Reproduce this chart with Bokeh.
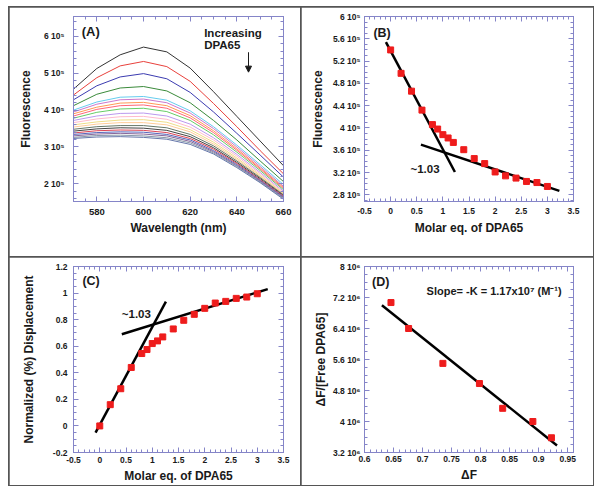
from bokeh.plotting import figure
from bokeh.models import LinearAxis, FixedTicker, Range1d, Arrow, NormalHead, Label, CustomLabelingPolicy
from bokeh.layouts import row, column
from bokeh.embed import file_html
from bokeh.resources import INLINE
import numpy as np

FONT = "Liberation Sans"
FRAME = "#8585c8"
INK = "#1a1a1a"
RED = "#ee1c1c"

# ---------------- Panel A: emission spectra (values in units of 1e5) ----------------
WAVELENGTH = [570, 580, 590, 600, 610, 620, 630, 640, 650, 660]
SPEC_01 = [4.57, 5.13, 5.50, 5.71, 5.58, 5.14, 4.50, 3.83, 3.16, 2.49]
SPEC_02 = [4.41, 4.88, 5.20, 5.32, 5.18, 4.78, 4.18, 3.55, 2.90, 2.27]
SPEC_03 = [4.28, 4.66, 4.90, 4.99, 4.85, 4.48, 3.95, 3.37, 2.78, 2.18]
SPEC_04 = [4.12, 4.43, 4.60, 4.64, 4.52, 4.20, 3.72, 3.19, 2.62, 2.06]
SPEC_05 = [4.00, 4.22, 4.35, 4.37, 4.27, 3.98, 3.55, 3.05, 2.52, 1.98]
SPEC_06 = [3.95, 4.16, 4.28, 4.30, 4.20, 3.92, 3.50, 3.00, 2.47, 1.93]
SPEC_07 = [3.90, 4.08, 4.19, 4.21, 4.12, 3.85, 3.44, 2.95, 2.43, 1.90]
SPEC_08 = [3.84, 4.02, 4.12, 4.14, 4.05, 3.79, 3.39, 2.91, 2.40, 1.87]
SPEC_09 = [3.78, 3.94, 4.03, 4.05, 3.96, 3.72, 3.33, 2.86, 2.36, 1.84]
SPEC_10 = [3.72, 3.84, 3.91, 3.92, 3.84, 3.62, 3.25, 2.80, 2.31, 1.80]
SPEC_11 = [3.66, 3.76, 3.82, 3.83, 3.75, 3.54, 3.19, 2.75, 2.27, 1.77]
SPEC_12 = [3.60, 3.68, 3.73, 3.74, 3.67, 3.47, 3.13, 2.70, 2.23, 1.74]
SPEC_13 = [3.54, 3.62, 3.66, 3.66, 3.60, 3.41, 3.08, 2.66, 2.20, 1.72]
SPEC_14 = [3.48, 3.55, 3.58, 3.58, 3.52, 3.34, 3.03, 2.62, 2.17, 1.70]
SPEC_15 = [3.43, 3.49, 3.52, 3.51, 3.45, 3.28, 2.98, 2.58, 2.14, 1.68]
SPEC_16 = [3.38, 3.44, 3.46, 3.45, 3.39, 3.23, 2.94, 2.55, 2.11, 1.66]
SPEC_17 = [3.34, 3.39, 3.41, 3.40, 3.34, 3.19, 2.90, 2.52, 2.09, 1.64]
SPEC_18 = [3.30, 3.35, 3.37, 3.35, 3.30, 3.15, 2.87, 2.49, 2.07, 1.62]
SPEC_19 = [3.26, 3.31, 3.32, 3.30, 3.25, 3.11, 2.84, 2.47, 2.05, 1.60]
SPEC_20 = [3.23, 3.27, 3.28, 3.26, 3.21, 3.07, 2.81, 2.44, 2.03, 1.58]
SPEC_COLORS = ["#333333", "#e8413c", "#3b3bb0", "#3a8a3a", "#66ccee", "#cc77cc",
               "#ff9955", "#ff6677", "#66cc66", "#bb99ee", "#ffbbcc", "#eedd88",
               "#ffcc99", "#667766", "#444444", "#dd4455", "#5566bb", "#886699",
               "#8899aa", "#6677aa"]
A_X_TICKS = [580, 600, 620, 640, 660]
A_Y_TICKS = [200000, 300000, 400000, 500000, 600000]
A_Y_LABELS = ["2 10\u2075", "3 10\u2075", "4 10\u2075", "5 10\u2075", "6 10\u2075"]

# ---------------- Panel B: fluorescence vs molar eq ----------------
MOLAR_EQ = [0, 0.2, 0.4, 0.6, 0.8, 0.9, 1.0, 1.1, 1.2, 1.4, 1.6, 1.8, 2.0, 2.2, 2.4, 2.6, 2.8, 3.0]
B_FLUOR = [5.40, 4.98, 4.66, 4.32, 4.06, 3.98, 3.88, 3.82, 3.74, 3.61, 3.45, 3.36, 3.21, 3.14,
           3.10, 3.04, 3.02, 2.95]  # x 1e5
B_FIT1_X = [-0.09, 1.23]
B_FIT1_Y = [5.54, 3.21]
B_FIT2_X = [0.58, 3.23]
B_FIT2_Y = [3.70, 2.87]
B_X_TICKS = [-0.5, 0, 0.5, 1, 1.5, 2, 2.5, 3, 3.5]
B_X_LABELS = ["-0.5", "0", "0.5", "1", "1.5", "2", "2.5", "3", "3.5"]
B_Y_TICKS = [280000, 320000, 360000, 400000, 440000, 480000, 520000, 560000, 600000]
B_Y_LABELS = ["2.8 10\u2075", "3.2 10\u2075", "3.6 10\u2075", "4 10\u2075", "4.4 10\u2075",
              "4.8 10\u2075", "5.2 10\u2075", "5.6 10\u2075", "6 10\u2075"]

# ---------------- Panel C: normalized displacement ----------------
C_DISP = [0.0, 0.16, 0.28, 0.44, 0.545, 0.575, 0.62, 0.64, 0.67, 0.73, 0.795, 0.84, 0.885,
          0.925, 0.9375, 0.96, 0.97, 0.995]
C_FIT1_X = [-0.08, 1.26]
C_FIT1_Y = [-0.05, 0.935]
C_FIT2_X = [0.42, 3.2]
C_FIT2_Y = [0.69, 1.03]
C_Y_TICKS = [-0.2, 0, 0.2, 0.4, 0.6, 0.8, 1, 1.2]
C_Y_LABELS = ["-0.2", "0", "0.2", "0.4", "0.6", "0.8", "1", "1.2"]

# ---------------- Panel D: Scatchard-type plot ----------------
D_DF = [0.6456, 0.676, 0.735, 0.798, 0.838, 0.89, 0.922]
D_RATIO = [7.07, 6.40, 5.50, 4.98, 4.34, 4.00, 3.58]  # x 1e6
D_FIT_X = [0.63, 0.9316]
D_FIT_Y = [7.00, 3.38]
D_X_TICKS = [0.6, 0.65, 0.7, 0.75, 0.8, 0.85, 0.9, 0.95]
D_X_LABELS = ["0.6", "0.65", "0.7", "0.75", "0.8", "0.85", "0.9", "0.95"]
D_Y_TICKS = [3200000, 4000000, 4800000, 5600000, 6400000, 7200000, 8000000]
D_Y_LABELS = ["3.2 10\u2076", "4 10\u2076", "4.8 10\u2076", "5.6 10\u2076", "6.4 10\u2076",
              "7.2 10\u2076", "8 10\u2076"]


def style_axis(ax, ticker, labels=None, size="8.5px", standoff=5, show=True):
    ax.ticker = ticker
    ax.axis_line_color = FRAME
    ax.major_tick_line_color = FRAME
    ax.minor_tick_line_color = FRAME
    ax.major_tick_in = 5
    ax.major_tick_out = 0
    ax.minor_tick_in = 3
    ax.minor_tick_out = 0
    ax.major_label_text_font = FONT
    ax.major_label_text_font_style = "bold"
    ax.major_label_text_color = INK
    ax.major_label_text_font_size = size if show else "0px"
    ax.major_label_standoff = standoff if show else 0
    if not show:
        ax.major_label_policy = CustomLabelingPolicy(
            code="for (const i of indices) { indices.unset(i) } return indices")
    if labels is not None:
        ax.major_label_overrides = labels
    ax.axis_label_text_font = FONT
    ax.axis_label_text_font_style = "bold"
    ax.axis_label_text_font_size = "12px"
    ax.axis_label_text_color = INK


def make_panel(w, h, xr, yr, borders, xticker, yticker, xlabels, ylabels,
               xtitle, ytitle, xsize, ysize, xstand, ystand, xtstand, ytstand):
    p = figure(width=w, height=h, x_range=Range1d(*xr), y_range=Range1d(*yr),
               output_backend="svg", toolbar_location=None,
               min_border_left=borders[0], min_border_right=borders[1],
               min_border_top=borders[2], min_border_bottom=borders[3])
    p.xgrid.visible = False
    p.ygrid.visible = False
    p.outline_line_color = FRAME
    p.background_fill_color = "white"
    p.border_fill_color = "white"
    style_axis(p.xaxis[0], xticker, xlabels, xsize, xstand)
    style_axis(p.yaxis[0], yticker, ylabels, ysize, ystand)
    p.xaxis[0].axis_label = xtitle
    p.yaxis[0].axis_label = ytitle
    p.xaxis[0].axis_label_standoff = xtstand
    p.yaxis[0].axis_label_standoff = ytstand
    top = LinearAxis()
    style_axis(top, xticker, show=False)
    right = LinearAxis()
    style_axis(right, yticker, show=False)
    p.add_layout(top, "above")
    p.add_layout(right, "right")
    return p


def tag(p, x, y, text, size="13px", align="left"):
    p.add_layout(Label(x=x, y=y, text=text, text_font=FONT, text_font_style="bold",
                       text_font_size=size, text_color=INK, text_align=align,
                       text_baseline="middle"))


# ---- Panel A
tA_x = FixedTicker(ticks=A_X_TICKS, minor_ticks=list(np.arange(570, 661, 5)))
tA_y = FixedTicker(ticks=A_Y_TICKS, minor_ticks=list(np.arange(140000, 660001, 20000)))
pA = make_panel(291, 249, (570, 660), (152000, 654000), (64, 17, 9, 54), tA_x, tA_y,
                None, dict(zip(A_Y_TICKS, A_Y_LABELS)), "Wavelength (nm)", "Fluorescence",
                "9.5px", "8.5px", 7, 9, 3, 8)
spectra = [SPEC_01, SPEC_02, SPEC_03, SPEC_04, SPEC_05, SPEC_06, SPEC_07, SPEC_08, SPEC_09, SPEC_10,
           SPEC_11, SPEC_12, SPEC_13, SPEC_14, SPEC_15, SPEC_16, SPEC_17, SPEC_18, SPEC_19, SPEC_20]
for spec, col in zip(spectra, SPEC_COLORS):
    pA.line(WAVELENGTH, [v * 1e5 for v in spec], line_color=col, line_width=1)
tag(pA, 573.5, 613000, "(A)", "13px")
tag(pA, 626, 608000, "Increasing", "11.5px")
tag(pA, 626, 576000, "DPA65", "11.5px")
pA.add_layout(Arrow(end=NormalHead(size=6, fill_color=INK, line_color=INK),
                    x_start=645, y_start=557000, x_end=645, y_end=503000,
                    line_color=INK, line_width=1))

# ---- Panel B
tB_x = FixedTicker(ticks=B_X_TICKS, minor_ticks=list(np.round(np.arange(-0.5, 3.51, 0.1), 2)))
tB_y = FixedTicker(ticks=B_Y_TICKS, minor_ticks=list(np.arange(260000, 600001, 10000)))
pB = make_panel(292, 249, (-0.5, 3.5), (268000, 600000), (63, 20, 9, 55), tB_x, tB_y,
                dict(zip(B_X_TICKS, B_X_LABELS)), dict(zip(B_Y_TICKS, B_Y_LABELS)),
                "Molar eq. of DPA65", "Fluorescence", "8.5px", "8.5px", 6, 4, 4, 5)
pB.line(B_FIT1_X, [v * 1e5 for v in B_FIT1_Y], line_color="black", line_width=2.5)
pB.line(B_FIT2_X, [v * 1e5 for v in B_FIT2_Y], line_color="black", line_width=2.5)
pB.scatter(MOLAR_EQ, [v * 1e5 for v in B_FLUOR], marker="square", size=6,
           fill_color=RED, line_color=RED)
tag(pB, -0.33, 571000, "(B)", "12.5px")
tag(pB, 0.38, 327000, "~1.03", "11.5px")

# ---- Panel C
tC_y = FixedTicker(ticks=C_Y_TICKS, minor_ticks=list(np.round(np.arange(-0.2, 1.21, 0.05), 3)))
pC = make_panel(291, 228, (-0.5, 3.5), (-0.2, 1.2), (64, 17, 9, 33), tB_x, tC_y,
                dict(zip(B_X_TICKS, B_X_LABELS)), dict(zip(C_Y_TICKS, C_Y_LABELS)),
                "Molar eq. of DPA65", "Normalized (%) Displacement", "8.5px", "8.5px", 4, 6, 3, 14)
pC.line(C_FIT1_X, C_FIT1_Y, line_color="black", line_width=2.5)
pC.line(C_FIT2_X, C_FIT2_Y, line_color="black", line_width=2.5)
pC.scatter(MOLAR_EQ, C_DISP, marker="square", size=6, fill_color=RED, line_color=RED)
tag(pC, -0.33, 1.09, "(C)", "12.5px")
tag(pC, 0.42, 0.845, "~1.03", "11.5px")

# ---- Panel D
tD_x = FixedTicker(ticks=D_X_TICKS, minor_ticks=list(np.round(np.arange(0.6, 0.961, 0.01), 3)))
tD_y = FixedTicker(ticks=D_Y_TICKS, minor_ticks=list(np.arange(3200000, 8000001, 200000)))
pD = make_panel(292, 228, (0.6, 0.96), (3200000, 8000000), (63, 20, 9, 32), tD_x, tD_y,
                dict(zip(D_X_TICKS, D_X_LABELS)), dict(zip(D_Y_TICKS, D_Y_LABELS)),
                "\u0394F", "\u0394F/[Free DPA65]", "8.5px", "8.5px", 3, 4, 3, 2)
pD.line(D_FIT_X, [v * 1e6 for v in D_FIT_Y], line_color="black", line_width=2.5)
pD.scatter(D_DF, [v * 1e6 for v in D_RATIO], marker="square", size=6,
           fill_color=RED, line_color=RED)
tag(pD, 0.613, 7600000, "(D)", "12.5px")
tag(pD, 0.707, 7370000, "Slope= -K = 1.17x10\u2077 (M\u207b\u00b9)", "11px")

top_row = row(pA, pB, spacing=1)
bottom_row = row(pC, pD, spacing=1)
grid = column(top_row, bottom_row, spacing=1,
              styles={"background-color": "#555555", "border": "1px solid #555555",
                      "margin-top": "6px", "margin-left": "8px"})

open("out.html", "w").write(file_html(grid, INLINE))
